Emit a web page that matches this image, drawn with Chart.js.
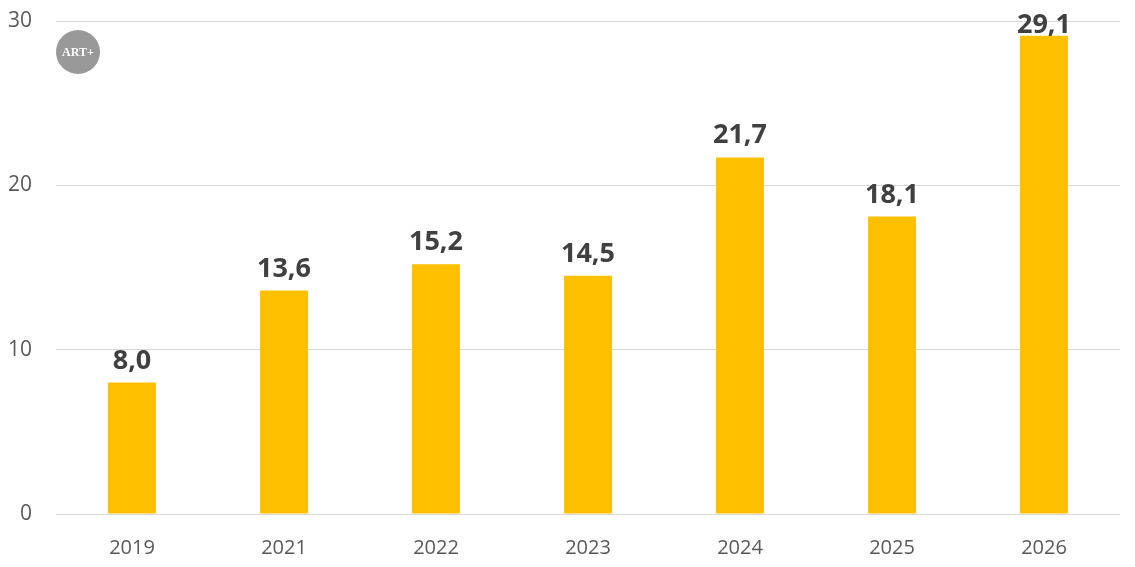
<!DOCTYPE html>
<html>
<head>
<meta charset="utf-8">
<script src="https://cdn.jsdelivr.net/npm/chart.js@4"></script>
<style>
  html, body { margin: 0; padding: 0; background: #fff; }
  #wrap { width: 1135px; height: 567px; }
</style>
</head>
<body>
<div id="wrap"><canvas id="chart"></canvas></div>
<script>
// data
const years = ['2019', '2021', '2022', '2023', '2024', '2025', '2026'];
const values = [8.0, 13.6, 15.2, 14.5, 21.7, 18.1, 29.1];
const yTicks = [0, 10, 20, 30];

// labels above bars, comma decimal
const barLabels = {
  id: 'barLabels',
  afterDatasetsDraw(chart) {
    const ctx = chart.ctx;
    const meta = chart.getDatasetMeta(0);
    ctx.save();
    ctx.font = 'bold 27px "Open Sans", sans-serif';
    ctx.fillStyle = '#404040';
    ctx.textAlign = 'center';
    ctx.textBaseline = 'alphabetic';
    meta.data.forEach((bar, i) => {
      // don't let the tallest label run off the top
      const y = Math.max(bar.y - 14, 33);
      ctx.fillText(values[i].toFixed(1).replace('.', ','), bar.x, y);
    });
    ctx.restore();
  }
};

// small ART+ badge top left
const badge = {
  id: 'badge',
  afterDraw(chart) {
    const ctx = chart.ctx;
    ctx.save();
    ctx.beginPath();
    ctx.arc(78, 52, 22, 0, Math.PI * 2);
    ctx.fillStyle = '#999999';
    ctx.fill();
    ctx.fillStyle = '#ffffff';
    ctx.font = 'bold 12px "Liberation Serif", serif';
    ctx.textAlign = 'center';
    ctx.textBaseline = 'middle';
    ctx.fillText('ART+', 78, 53);
    ctx.restore();
  }
};

new Chart(document.getElementById('chart'), {
  type: 'bar',
  data: {
    labels: years,
    datasets: [{
      data: values,
      backgroundColor: '#FFC000',
      barPercentage: 0.63,
      categoryPercentage: 0.5
    }]
  },
  options: {
    responsive: true,
    maintainAspectRatio: false,
    animation: false,
    layout: { padding: { top: 21, right: 15, left: 0, bottom: 0 } },
    plugins: { legend: { display: false }, tooltip: { enabled: false } },
    scales: {
      x: {
        grid: { display: false },
        border: { display: false },
        ticks: { color: '#595959', font: { size: 20, family: '"Open Sans", sans-serif' }, padding: 14 },
        afterFit: s => { s.height = 53; }
      },
      y: {
        min: 0,
        max: 30,
        afterBuildTicks: s => { s.ticks = yTicks.map(v => ({ value: v })); },
        grid: { color: '#d9d9d9', drawTicks: false },
        border: { display: false },
        ticks: { color: '#595959', font: { size: 21, family: '"Open Sans", sans-serif' }, padding: 24 },
        // keep label padding from pushing the plot down
        afterFit: s => { s.width = 56; s.paddingTop = 10; s.paddingBottom = 10; }
      }
    }
  },
  plugins: [barLabels, badge]
});
</script>
</body>
</html>
